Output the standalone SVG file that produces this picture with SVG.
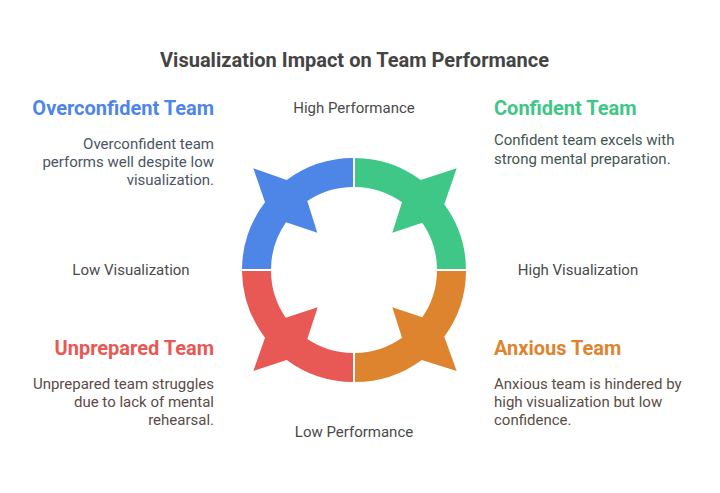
<svg xmlns="http://www.w3.org/2000/svg" width="720" height="493" viewBox="0 0 720 493">
<style>
text{font-family:Roboto,"Liberation Sans",sans-serif}
.t{font-size:20px;font-weight:700;fill:#444}
.h{font-size:20px;font-weight:700}
.b{font-size:15px}
.a{font-size:15px;fill:#4a4a4a}
.e{text-anchor:end}
.m{text-anchor:middle}
</style>
<rect width="720" height="493" fill="#fff"/>
<text class="t m" x="354.5" y="67" textLength="389">Visualization Impact on Team Performance</text>
<g id="axis-labels">
<text class="a m" x="354" y="113">High Performance</text>
<text class="a m" x="354" y="437">Low Performance</text>
<text class="a m" x="131" y="275">Low Visualization</text>
<text class="a m" x="578" y="275">High Visualization</text>
</g>
<g id="connectors">
<path id="arc-confident" fill="#3ec786" d="M355 158A112 112 0 0 1 420.7 180L456.7 168.3L444.3 204.3A112 112 0 0 1 466 269H437A83 83 0 0 0 422.3 222.7L392.3 232.7L402 202.3A83 83 0 0 0 355 187Z"/>
<path id="arc-anxious" fill="#de842f" d="M355 382A112 112 0 0 0 421.7 360L456.7 371L444.3 336.7A112 112 0 0 0 466 271H437A83 83 0 0 1 422.3 317.3L392.3 307.3L402 337.7A83 83 0 0 1 355 353Z"/>
<path id="arc-unprepared" fill="#e85854" d="M353 382A112 112 0 0 1 286.7 360L253.3 371L265 337.7A112 112 0 0 1 242 271H271A83 83 0 0 0 285.7 317.7L317.7 307.3L307.3 339A83 83 0 0 0 353 353Z"/>
<path id="arc-overconfident" fill="#4e86e8" d="M353 158A112 112 0 0 0 286.7 180L253.3 168.3L265 202.3A112 112 0 0 0 242 269H271A83 83 0 0 1 286 222.3L317.3 232.7L307.3 201A83 83 0 0 1 353 187Z"/>
</g>
<g id="overconfident">
<text class="h e" x="214" y="115" fill="#4e86e8">Overconfident Team</text>
<text class="b e" fill="#4b5563"><tspan x="214" y="149">Overconfident team</tspan><tspan x="214" y="167">performs well despite low</tspan><tspan x="214" y="185">visualization.</tspan></text>
</g>
<g id="confident">
<text class="h" x="494" y="115" fill="#3ec786">Confident Team</text>
<text class="b" fill="#3f5650"><tspan x="494" y="145">Confident team excels with</tspan><tspan x="494" y="164">strong mental preparation.</tspan></text>
</g>
<g id="unprepared">
<text class="h e" x="214" y="355" fill="#e85854">Unprepared Team</text>
<text class="b e" fill="#5c4a48"><tspan x="214" y="389">Unprepared team struggles</tspan><tspan x="214" y="407">due to lack of mental</tspan><tspan x="214" y="425">rehearsal.</tspan></text>
</g>
<g id="anxious">
<text class="h" x="494" y="355" fill="#de842f">Anxious Team</text>
<text class="b" fill="#5a4d44"><tspan x="494" y="389">Anxious team is hindered by</tspan><tspan x="494" y="407">high visualization but low</tspan><tspan x="494" y="425">confidence.</tspan></text>
</g>
</svg>
